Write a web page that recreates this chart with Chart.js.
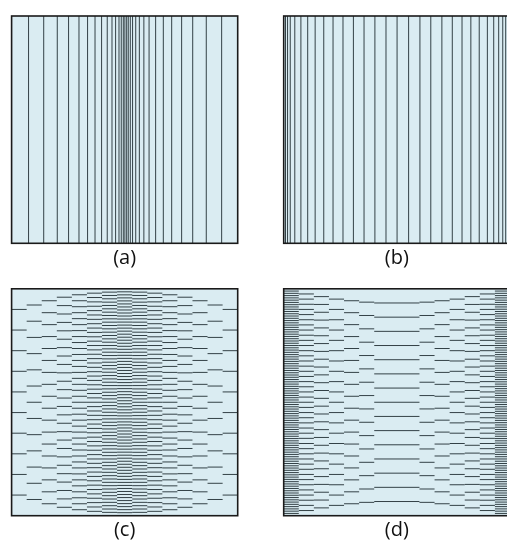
<!DOCTYPE html>
<html><head><meta charset="utf-8">
<script src="https://cdn.jsdelivr.net/npm/chart.js@4.4.1/dist/chart.umd.min.js"></script>
<style>
html,body{margin:0;padding:0;background:#fff;overflow:hidden;}
body{width:507px;height:541px;position:relative;}
.p{position:absolute;}
</style></head><body>
<div class="p" style="left:0;top:0;width:254px;height:271px"><canvas id="ca" width="254" height="271"></canvas></div>
<div class="p" style="left:256px;top:0;width:260px;height:271px"><canvas id="cb" width="260" height="271"></canvas></div>
<div class="p" style="left:0;top:270px;width:254px;height:273px"><canvas id="cc" width="254" height="273"></canvas></div>
<div class="p" style="left:256px;top:270px;width:260px;height:273px"><canvas id="cd" width="260" height="273"></canvas></div>
<script>
// ---- data (positions in % of the panel width / height) ----
// (a) vertical mesh lines, clustered about the centre
const aLines = [7.5, 14.2, 20.2, 25.2, 29.8, 33.6, 36.9, 39.8, 42.3, 44.4, 46.0, 47.5, 48.5, 49.4,
  50.1, 50.9, 51.6, 52.5, 53.5, 54.9, 56.5, 58.5, 60.8, 63.7, 67.1, 70.8, 75.2, 80.1, 86.1, 92.9];
// (b) vertical mesh lines, clustered at both walls
const bLines = [0.8, 1.7, 2.9, 4.9, 7.6, 10.6, 13.9, 17.7, 21.8, 26.2, 30.8, 35.5, 40.3, 45.2,
  50.1, 55.2, 60.2, 65.0, 69.9, 74.5, 78.8, 82.7, 86.4, 90.0, 92.8, 95.0, 96.8, 98.1, 99.0];
// (c) 15 equal columns, number of cells stacked in each column
const cColumnSpans = [1,1,1,1,1,1,1,1,1,1,1,1,1,1,1];
const cCellCounts  = [11, 14, 19, 27, 38, 52, 68, 75, 68, 52, 38, 27, 19, 14, 11];
// (d) columns (centre one three times as wide), cells stacked in each
const dColumnSpans = [1,1,1,1,1,1,3,1,1,1,1,1,1];
const dCellCounts  = [100, 44, 29, 22, 19, 17, 16, 17, 19, 22, 29, 44, 100];
const labels = ['(a)', '(b)', '(c)', '(d)'];

// ---- styling ----
const FILL = '#daecf2';
const LINE = '#334146';
const FRAME = '#1a1a1a';
const FONT = '"Open Sans", Lato, sans-serif';

function verticalLines(xs) {
  const pts = [];
  xs.forEach(x => { pts.push({x: x, y: 0}, {x: x, y: 100}, {x: null, y: null}); });
  return pts;
}
function columnMesh(spans, counts) {
  const total = spans.reduce((s, v) => s + v, 0);
  const pts = [];
  let x0 = 0;
  spans.forEach((s, i) => {
    const x1 = x0 + s / total * 100;
    const n = counts[i];
    for (let k = 1; k < n; k++) {
      const y = k * 100 / n;
      pts.push({x: x0, y: y}, {x: x1, y: y}, {x: null, y: null});
    }
    x0 = x1;
  });
  return pts;
}

const boxPlugin = {
  id: 'box',
  beforeDatasetsDraw(chart) {
    const a = chart.chartArea, ctx = chart.ctx;
    ctx.save(); ctx.fillStyle = FILL;
    ctx.fillRect(a.left, a.top, a.right - a.left, a.bottom - a.top);
    ctx.restore();
  },
  afterDatasetsDraw(chart) {
    const a = chart.chartArea, ctx = chart.ctx;
    ctx.save(); ctx.strokeStyle = FRAME; ctx.lineWidth = 1.6;
    ctx.strokeRect(a.left, a.top, a.right - a.left, a.bottom - a.top);
    ctx.restore();
  }
};

function panel(id, pts, label, pad) {
  new Chart(document.getElementById(id), {
    type: 'scatter',
    data: {datasets: [{data: pts, showLine: true, spanGaps: false, borderColor: LINE,
      borderWidth: 1, pointRadius: 0, pointHoverRadius: 0, clip: 0}]},
    options: {
      responsive: false, animation: false, events: [],
      layout: {padding: pad},
      scales: {
        x: {type: 'linear', min: 0, max: 100, display: false},
        y: {type: 'linear', min: 0, max: 100, display: false}
      },
      plugins: {
        legend: {display: false}, tooltip: {enabled: false},
        title: {display: true, position: 'bottom', text: label, color: '#111',
          font: {family: FONT, size: 20, weight: 'normal', lineHeight: 1.2},
          padding: {top: 2.7, bottom: 0}}
      }
    },
    plugins: [boxPlugin]
  });
}

panel('ca', verticalLines(aLines), labels[0], {left: 11.6, right: 16.3, top: 16, bottom: 1});
panel('cb', verticalLines(bLines), labels[1], {left: 27.7, right: 6, top: 16, bottom: 1});
panel('cc', columnMesh(cColumnSpans, cCellCounts), labels[2], {left: 11.6, right: 16.3, top: 18.8, bottom: 0.6});
panel('cd', columnMesh(dColumnSpans, dCellCounts), labels[3], {left: 27.7, right: 6, top: 18.8, bottom: 0.6});
</script>
</body></html>
